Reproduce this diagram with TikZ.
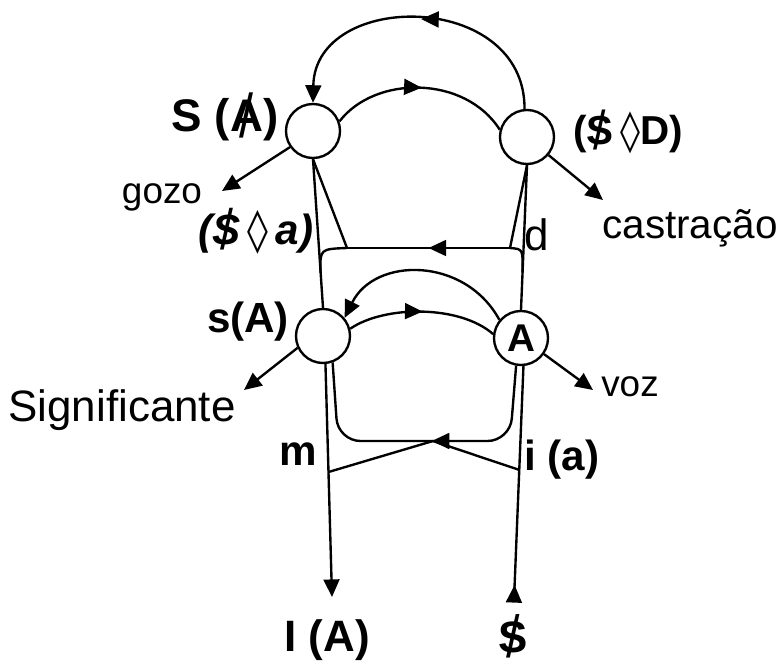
\documentclass[tikz,border=0pt]{standalone}
\usepackage{fontspec}
\setmainfont{Liberation Sans}
\newfontfamily\symfont{DejaVu Sans}
\usetikzlibrary{arrows.meta, decorations.markings}
\newcommand{\barred}[1]{\ooalign{#1\cr\hidewidth\raisebox{-.12em}{\scalebox{1.1}[1.35]{\mdseries\upshape /}}\hidewidth\cr}}

\begin{document}
\begin{tikzpicture}[
  >={Triangle[length=10pt,width=9pt]},
  line width=1.35pt,
  knot/.style={circle, draw, minimum size=1.08cm, inner sep=0pt, fill=white},
  lbl/.style={inner sep=0pt, font=\fontsize{22}{26}\selectfont},
  blbl/.style={inner sep=0pt, font=\fontsize{24}{28}\selectfont\bfseries},
  midarrow/.style={postaction={decorate}, decoration={markings, mark=at position #1 with {\arrow{>}}}},
]
  \useasboundingbox (0,0) rectangle (15.64,-13.42);

  % the four crossing points
  \node[knot] (SbA) at (6.26,-2.62) {};
  \node[knot] (SD) at (10.54,-2.74) {};
  \node[knot] (sA) at (6.46,-6.72) {};
  \node[knot, font=\fontsize{22}{26}\selectfont\bfseries] (A) at (10.42,-6.76) {A};

  \coordinate (v1) at (6.94,-4.96);
  \coordinate (v2) at (10.2,-4.96);
  \coordinate (gz) at (4.44,-3.82);
  \coordinate (cs) at (12.06,-4.0);
  \coordinate (sg) at (4.88,-7.8);
  \coordinate (vz) at (11.86,-7.8);
  \coordinate (Iend) at (6.64,-11.94);
  \coordinate (Send) at (10.28,-12.0);
  \coordinate (mpt) at (6.57,-9.44);
  \coordinate (iapt) at (10.39,-9.4);
  \coordinate (x) at (8.66,-8.82);

  % upper storey
  \draw[->, midarrow=0.5] (SD.95) .. controls (10.5,0.2) and (6.3,0.2) .. (SbA.north);
  \draw[midarrow=0.5] (SbA.20) .. controls (7.5,-1.5) and (9.3,-1.5) .. (SD.165);
  \draw[->] (SbA.215) -- (gz);
  \draw[->] (SD.-40) -- (cs);
  \draw (SbA.south) -- (sA.north);
  \draw (SbA.south) -- (v1);
  \draw[midarrow=0.5] (v2) -- (v1);
  \draw (v1) .. controls (6.40,-4.98) .. (6.41,-5.45);
  \draw (SD.south) -- (A.north);
  \draw (SD.south) -- (v2);
  \draw (v2) .. controls (10.46,-4.98) .. (10.45,-5.45);

  % lower storey
  \draw[->] (A.140) .. controls (9.3,-5.13) and (7.5,-5.13) .. (sA.40);
  \draw[midarrow=0.5] (sA.15) .. controls (7.7,-6.1) and (9.2,-6.1) .. (A.172);
  \draw[->] (sA.205) -- (sg);
  \draw[->] (A.-35) -- (vz);
  \draw[->] (sA.-85) -- (Iend);
  \draw[midarrow=0.3cm] (Send) -- (A.-85);
  \draw[rounded corners=0.45cm, midarrow=0.47] (A.-100) -- (10.2,-8.82) -- (6.76,-8.82) -- (sA.-70);
  \draw (iapt) -- (x);
  \draw (mpt) -- (x);

  % labels
  \node[blbl, font=\fontsize{26}{30}\selectfont\bfseries] (lSbA) at (4.5,-2.4) {S (\barred{A})};
  \node[blbl, font=\fontsize{23}{27}\selectfont\bfseries] (lSD) at (12.56,-2.66) {(\barred{S}\,{\symfont\mdseries ◊}D)};
  \node[lbl, font=\fontsize{21}{25}\selectfont] (lgz) at (3.24,-3.94) {gozo};
  \node[blbl, font=\fontsize{24}{28}\selectfont\bfseries\itshape] (lSa) at (5.12,-4.64) {(\barred{S}\,{\symfont\mdseries ◊}\,a)};
  \node[lbl, font=\fontsize{23}{27}\selectfont] (lcs) at (13.8,-4.56) {castração};
  \node[lbl, font=\fontsize{25}{29}\selectfont] (ld) at (10.74,-4.7) {d};
  \node[blbl] (lsA) at (4.96,-6.44) {s(A)};
  \node[lbl, font=\fontsize{21}{25}\selectfont] (lvz) at (12.6,-7.74) {voz};
  \node[lbl, font=\fontsize{25}{29}\selectfont] (lsg) at (2.44,-8.2) {Significante};
  \node[blbl] (lm) at (5.96,-9.08) {m};
  \node[blbl] (lia) at (11.24,-9.2) {i (a)};
  \node[blbl, font=\fontsize{25}{29}\selectfont\bfseries] (lIA) at (6.54,-12.8) {I (A)};
  \node[blbl, font=\fontsize{25}{29}\selectfont\bfseries] (lS) at (10.26,-12.8) {\barred{S}};
\end{tikzpicture}
\end{document}
